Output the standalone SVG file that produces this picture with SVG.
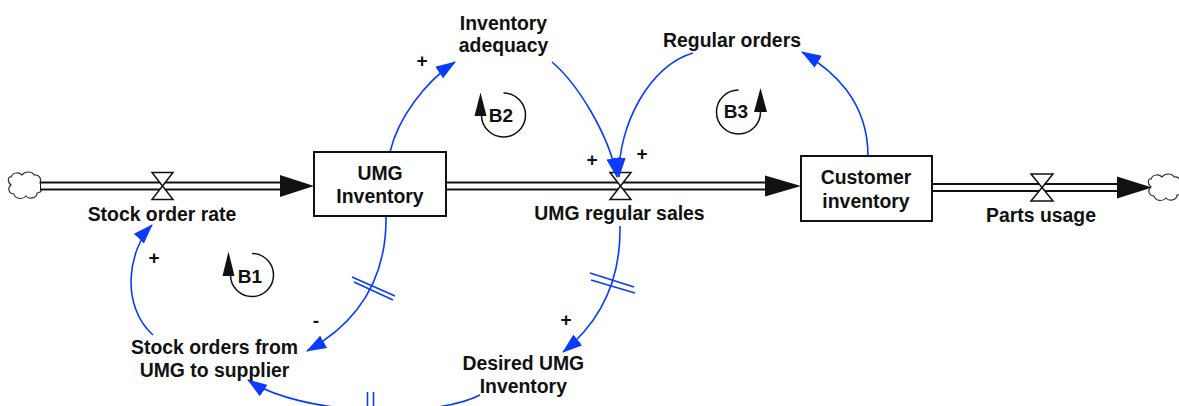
<svg xmlns="http://www.w3.org/2000/svg" width="1179" height="406" viewBox="0 0 1179 406">
  <style>
    text { font-family: "Liberation Sans", Arial, sans-serif; font-weight: bold; fill: #111; text-anchor: middle; }
    .lbl { font-size: 19.4px; }
    .pol { font-size: 19px; }
    .loopnm { font-size: 19px; }
    .box { fill: #fff; stroke: #111; stroke-width: 2; }
    .pipeO { stroke: #111; stroke-width: 9; fill: none; }
    .pipeI { stroke: #fff; stroke-width: 5; fill: none; }
    .valve { fill: #fff; stroke: #111; stroke-width: 1.5; stroke-linejoin: miter; }
    .flowhead { fill: #111; }
    .cloud { fill: #fff; stroke: #333; stroke-width: 1.2; }
    .link { fill: none; stroke: #0a3cff; stroke-width: 1.6; marker-end: url(#ah); }
    .delay { stroke: #0a3cff; stroke-width: 1.6; fill: none; }
    .loop { fill: none; stroke: #111; stroke-width: 1.5; }
    .loophead { fill: #111; }
  </style>
  <defs>
    <marker id="ah" markerUnits="userSpaceOnUse" viewBox="0 0 20 14" markerWidth="20" markerHeight="14" refX="19" refY="7" orient="auto">
      <path d="M0,0 L20,7 L0,14 Z" fill="#0a3cff"/>
    </marker>
    <!-- scalloped source/sink cloud, drawn around (24,186) -->
    <path id="cloudShape" d="M11,177 c2,-5 8,-5 11,-2 c3,-4 10,-4 12,0 c5,-1 8,4 6,8 c4,3 2,10 -3,10 c0,5 -8,7 -11,3 c-3,4 -11,3 -12,-2 c-5,0 -7,-6 -3,-9 c-4,-3 -3,-9 0,-8 Z"/>
  </defs>

  <!-- material flows (pipes, valves, sources/sinks) -->
  <g id="flows">
    <use href="#cloudShape" class="cloud"/>
    <path class="pipeO" d="M40,186 H284"/>
    <path class="pipeI" d="M41,186 H284"/>
    <polygon class="flowhead" points="280,175 314,186 280,197"/>
    <polygon class="valve" points="152,172.5 173,172.5 152,199.5 173,199.5"/>

    <path class="pipeO" d="M446,186 H768"/>
    <path class="pipeI" d="M447,186 H768"/>
    <polygon class="flowhead" points="765,175.5 801,186 765,196.5"/>
    <polygon class="valve" points="610,172.5 631,172.5 610,199.5 631,199.5"/>

    <path class="pipeO" d="M932,187.5 H1120"/>
    <path class="pipeI" d="M933,187.5 H1120"/>
    <polygon class="flowhead" points="1117,176.5 1152,187.5 1117,198.5"/>
    <polygon class="valve" points="1031,174 1053,174 1031,201 1053,201"/>
    <use href="#cloudShape" class="cloud" transform="translate(1140,2)"/>
  </g>

  <!-- causal links -->
  <g id="connectors">
    <path class="link" d="M390,152 C398,118 425,82 455,62"/>
    <path class="link" d="M552,62 C578,84 609,135 617,177"/>
    <path class="link" d="M693,53 C650,65 618,125 619,177"/>
    <path class="link" d="M868,156 C868,100 832,70 802,52"/>
    <path class="link" d="M386,216 C387,285 352,326 307,351"/>
    <path class="delay" d="M352,277 L395,296 M354,282 L393,300"/>
    <path class="link" d="M620,226 C621,280 600,322 563,352"/>
    <path class="delay" d="M590,273 L634,287 M591,280 L635,293"/>
    <path class="link" d="M480,395 C430,420 300,415 248,380"/>
    <path class="delay" d="M367.5,392 V428 M373.5,392 V428"/>
    <path class="link" d="M153,335 C120,305 128,250 152,225"/>
    <text class="pol" x="422" y="67">+</text>
    <text class="pol" x="592" y="166">+</text>
    <text class="pol" x="642" y="160">+</text>
    <text class="pol" x="154" y="264">+</text>
    <text class="pol" x="316" y="327">-</text>
    <text class="pol" x="566" y="325.5">+</text>
  </g>

  <!-- stocks -->
  <g id="umg-inventory">
    <rect class="box" x="314" y="152" width="132" height="64"/>
    <text class="lbl" x="380" y="180">UMG</text>
    <text class="lbl" x="380" y="203.3">Inventory</text>
  </g>
  <g id="customer-inventory">
    <rect class="box" x="801" y="156" width="131" height="65"/>
    <text class="lbl" x="866" y="184.3">Customer</text>
    <text class="lbl" x="866" y="207.7">inventory</text>
  </g>

  <!-- flow rates -->
  <g id="stock-order-rate">
    <text class="lbl" x="162" y="220.5">Stock order rate</text>
  </g>
  <g id="umg-regular-sales">
    <text class="lbl" x="619.5" y="220">UMG regular sales</text>
  </g>
  <g id="parts-usage">
    <text class="lbl" x="1041" y="221.5">Parts usage</text>
  </g>

  <!-- auxiliaries -->
  <g id="inventory-adequacy">
    <text class="lbl" x="503.5" y="30">Inventory</text>
    <text class="lbl" x="503.5" y="52">adequacy</text>
  </g>
  <g id="regular-orders">
    <text class="lbl" x="732" y="46.7">Regular orders</text>
  </g>
  <g id="stock-orders">
    <text class="lbl" x="214.5" y="354">Stock orders from</text>
    <text class="lbl" x="214.5" y="376.7">UMG to supplier</text>
  </g>
  <g id="desired-umg-inventory">
    <text class="lbl" x="523.3" y="370">Desired UMG</text>
    <text class="lbl" x="523.3" y="393.3">Inventory</text>
  </g>

  <!-- loop identifiers -->
  <g id="loop-b1">
    <path class="loop" d="M252,253.5 A21.5,21.5 0 1 1 230.5,275"/>
    <polygon class="loophead" points="228.5,251.5 222.5,276 234.5,276"/>
    <text class="loopnm" x="250" y="282.7">B1</text>
  </g>
  <g id="loop-b2">
    <path class="loop" d="M503.5,93 A22,22 0 1 1 481.5,115"/>
    <polygon class="loophead" points="480.5,92.5 474.5,116 486.5,116"/>
    <text class="loopnm" x="501" y="122">B2</text>
  </g>
  <g id="loop-b3">
    <path class="loop" d="M738.5,90 A22,22 0 1 0 760.5,112"/>
    <polygon class="loophead" points="760.5,88 754,112 767,112"/>
    <text class="loopnm" x="736" y="118.3">B3</text>
  </g>
</svg>
